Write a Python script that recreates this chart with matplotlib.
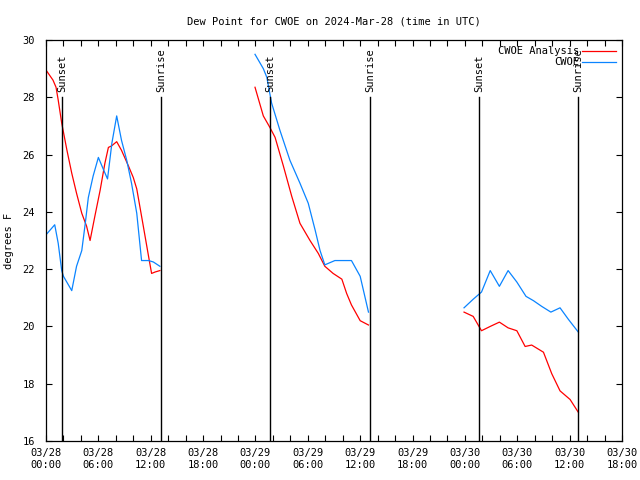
import matplotlib
matplotlib.use("Agg")
import matplotlib.pyplot as plt
import matplotlib.dates as mdates
import pandas as pd

# horas desde 2024-03-28 00:00 UTC
t0 = pd.Timestamp("2024-03-28 00:00")

ana1_h = [0.0, 0.8, 1.15, 1.4, 1.8, 2.4, 2.95, 3.5, 4.1, 4.65, 5.05, 5.6, 6.2, 6.75, 7.15, 7.5, 8.1, 8.65, 9.45, 10.0, 10.4, 11.15, 11.75, 12.1, 12.5, 13.05]
ana1_v = [28.95, 28.6, 28.35, 27.9, 27.1, 26.15, 25.35, 24.65, 23.95, 23.5, 23.0, 23.85, 24.75, 25.7, 26.25, 26.3, 26.45, 26.15, 25.6, 25.2, 24.8, 23.5, 22.45, 21.85, 21.9, 21.95]
obs1_h = [0.0, 1.0, 1.4, 1.8, 2.0, 2.95, 3.5, 4.1, 4.5, 4.85, 5.4, 6.0, 6.55, 7.05, 7.55, 8.1, 8.65, 9.25, 9.8, 10.4, 10.95, 11.75, 12.3, 13.05]
obs1_v = [23.2, 23.55, 22.9, 21.95, 21.75, 21.25, 22.1, 22.65, 23.6, 24.5, 25.25, 25.9, 25.5, 25.15, 26.4, 27.35, 26.5, 25.8, 25.0, 23.95, 22.3, 22.3, 22.25, 22.1]

ana2_h = [23.95, 24.9, 25.65, 26.25, 27.2, 28.15, 29.1, 30.25, 31.2, 31.95, 32.9, 33.9, 34.45, 35.0, 36.0, 36.95]
ana2_v = [28.35, 27.35, 26.95, 26.6, 25.6, 24.55, 23.6, 23.0, 22.55, 22.1, 21.85, 21.65, 21.15, 20.75, 20.2, 20.05]
obs2_h = [23.95, 24.9, 25.3, 25.85, 26.8, 27.95, 29.1, 30.05, 30.85, 31.4, 31.95, 33.1, 35.0, 36.0, 36.95]
obs2_v = [29.5, 29.0, 28.7, 27.8, 26.85, 25.8, 25.0, 24.3, 23.35, 22.65, 22.15, 22.3, 22.3, 21.75, 20.5]

ana3_h = [47.9, 48.95, 49.9, 50.9, 51.95, 52.95, 53.95, 54.9, 55.65, 57.0, 57.95, 58.9, 60.05, 61.0]
ana3_v = [20.5, 20.35, 19.85, 20.0, 20.15, 19.95, 19.85, 19.3, 19.35, 19.1, 18.35, 17.75, 17.45, 17.0]
obs3_h = [47.9, 48.95, 49.9, 50.9, 51.95, 52.95, 53.95, 55.0, 55.85, 56.8, 57.85, 58.9, 59.85, 61.0]
obs3_v = [20.65, 20.95, 21.2, 21.95, 21.4, 21.95, 21.55, 21.05, 20.9, 20.7, 20.5, 20.65, 20.25, 19.8]

sunset_h = [1.83, 25.67, 49.6]
sunrise_h = [13.18, 37.13, 60.96]


def to_time(hours):
    return [t0 + pd.Timedelta(hours=h) for h in hours]


plt.rcParams["font.family"] = "DejaVu Sans Mono"
plt.rcParams["font.size"] = 7.5

fig = plt.figure(figsize=(6.4, 4.8), dpi=100)
ax = fig.add_axes([46 / 640, 39 / 480, 576 / 640, 401 / 480])

red = "#ff0000"
blue = "#0a84ff"

segs = [(ana1_h, ana1_v, obs1_h, obs1_v), (ana2_h, ana2_v, obs2_h, obs2_v), (ana3_h, ana3_v, obs3_h, obs3_v)]
for i, (ah, av, oh, ov) in enumerate(segs):
    ax.plot(to_time(ah), av, color=red, lw=0.9, label="CWOE Analysis" if i == 0 else None)
    ax.plot(to_time(oh), ov, color=blue, lw=0.9, label="CWOE" if i == 0 else None)

for h in sunset_h:
    t = t0 + pd.Timedelta(hours=h)
    ax.plot([t, t], [16, 28], color="black", lw=1)
    ax.text(t, 28.2, "Sunset", rotation=90, ha="center", va="bottom", fontsize=7.5)
for h in sunrise_h:
    t = t0 + pd.Timedelta(hours=h)
    ax.plot([t, t], [16, 28], color="black", lw=1)
    ax.text(t, 28.2, "Sunrise", rotation=90, ha="center", va="bottom", fontsize=7.5)

ax.set_xlim(t0, t0 + pd.Timedelta(hours=66))
ax.set_ylim(16, 30)
ax.set_yticks(range(16, 31, 2))

ax.xaxis.set_major_locator(mdates.HourLocator(byhour=[0, 6, 12, 18]))
ax.xaxis.set_minor_locator(mdates.HourLocator(byhour=range(0, 24, 2)))
ax.xaxis.set_major_formatter(mdates.DateFormatter("%m/%d\n%H:%M"))
ax.tick_params(which="both", direction="in", top=True, right=True, length=4, width=0.8, pad=5)
ax.tick_params(axis="y", pad=8)
for s in ax.spines.values():
    s.set_linewidth(0.9)

ax.set_title("Dew Point for CWOE on 2024-Mar-28 (time in UTC)", fontsize=7.5, pad=11)
ax.set_ylabel("degrees F", labelpad=6)

leg = ax.legend(loc="upper right", frameon=False, markerfirst=False, handlelength=3.2,
                borderaxespad=0.2, labelspacing=0.1, handletextpad=0.3)
for txt in leg.get_texts():
    txt.set_ha("right")

fig.savefig("out.png", dpi=100)
